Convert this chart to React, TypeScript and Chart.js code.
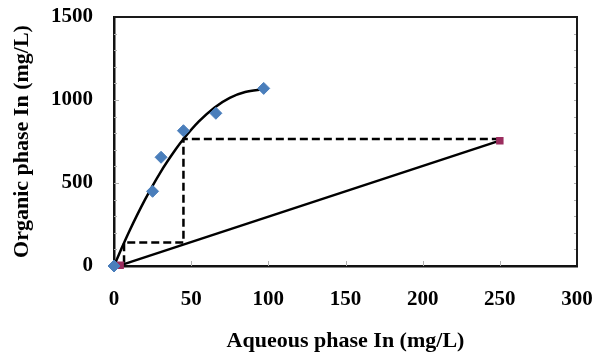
import React, { useEffect, useRef } from "react";
import { Chart, registerables } from "chart.js";

Chart.register(...registerables);

// Equilibrium data (aqueous In, organic In)
const eqX = [0, 25, 30.5, 45, 66, 97];
const eqY = [0, 450, 655, 815, 920, 1070];

// Trendline through equilibrium points
const trendX = [0, 5, 10, 20, 30, 40, 45, 55, 65, 75, 85, 97];
const trendY = [0, 108, 211, 398, 563, 703, 765, 871, 954, 1013, 1048, 1064];

// Operating line endpoints
const opX = [4, 250];
const opY = [4, 755];

// McCabe-Thiele step (dashed)
const stepX = [250, 45, 45, 6.5, 6.5];
const stepY = [765, 765, 142, 142, 20];

const xTicks = [0, 50, 100, 150, 200, 250, 300];
const yTicks = [0, 500, 1000, 1500];

const xTitle = "Aqueous phase In (mg/L)";
const yTitle = "Organic phase In (mg/L)";

const FONT = "'Liberation Serif', 'Times New Roman', serif";

const toPts = (xs: number[], ys: number[]) => xs.map((x, i) => ({ x, y: ys[i] }));

const framePlugin = {
  id: "frame",
  afterDatasetsDraw(chart: any) {
    const { ctx, chartArea, scales } = chart;
    const { left, right, top, bottom } = chartArea;
    ctx.save();
    // minor inner ticks
    ctx.strokeStyle = "#b0b0b0";
    ctx.lineWidth = 1;
    for (let v = 100; v < 1500; v += 100) {
      const y = Math.round(scales.y.getPixelForValue(v)) + 0.5;
      const len = v % 500 === 0 ? 5 : 3;
      ctx.beginPath();
      ctx.moveTo(left, y);
      ctx.lineTo(left + len, y);
      ctx.stroke();
      ctx.beginPath();
      ctx.moveTo(right, y);
      ctx.lineTo(right - 3, y);
      ctx.stroke();
    }
    for (const v of xTicks) {
      if (v === 0 || v === 300) continue;
      const x = Math.round(scales.x.getPixelForValue(v)) + 0.5;
      ctx.beginPath();
      ctx.moveTo(x, bottom);
      ctx.lineTo(x, bottom - 5);
      ctx.stroke();
    }
    // frame top/right
    ctx.strokeStyle = "#1a1a1a";
    ctx.lineWidth = 2;
    ctx.beginPath();
    ctx.moveTo(left, top);
    ctx.lineTo(right, top);
    ctx.lineTo(right, bottom);
    ctx.stroke();
    ctx.restore();
  },
};

const noPad = (s: any) => {
  s.paddingTop = 0;
  s.paddingBottom = 0;
  s.paddingLeft = 0;
  s.paddingRight = 0;
};

export default function App() {
  const ref = useRef<HTMLCanvasElement | null>(null);
  useEffect(() => {
    document.body.style.margin = "0";
    const canvas = ref.current;
    if (!canvas) return;
    const chart = new Chart(canvas, {
      type: "scatter",
      data: {
        datasets: [
          {
            label: "eq",
            data: toPts(eqX, eqY),
            showLine: false,
            pointStyle: "rectRot",
            pointRadius: 6,
            pointBackgroundColor: "#4A7EBB",
            pointBorderColor: "#4A7EBB",
            clip: false as any,
          },
          {
            label: "op",
            data: toPts(opX, opY),
            showLine: true,
            borderColor: "#000",
            borderWidth: 2.5,
            pointStyle: "rect",
            pointRadius: 3.5,
            pointBackgroundColor: "#9B2D5E",
            pointBorderColor: "#9B2D5E",
            clip: false as any,
          },
          {
            label: "trend",
            data: toPts(trendX, trendY),
            showLine: true,
            borderColor: "#000",
            borderWidth: 2.5,
            pointRadius: 0,
            cubicInterpolationMode: "monotone",
          } as any,
          {
            label: "step",
            data: toPts(stepX, stepY),
            showLine: true,
            borderColor: "#000",
            borderWidth: 2.5,
            borderDash: [8, 4],
            pointRadius: 0,
          },
        ],
      },
      options: {
        animation: false,
        responsive: false,
        layout: { padding: { top: 17, right: 18, left: 0, bottom: 0 } },
        plugins: { legend: { display: false }, tooltip: { enabled: false } },
        scales: {
          x: {
            type: "linear",
            min: 0,
            max: 300,
            afterFit: (s: any) => {
              s.height = 89;
              noPad(s);
            },
            afterBuildTicks: (s: any) => {
              s.ticks = xTicks.map((v) => ({ value: v }));
            },
            grid: { display: true, drawOnChartArea: false, drawTicks: false },
            border: { color: "#111", width: 2.5 },
            ticks: {
              padding: 21,
              color: "#000",
              callback: (v: any) => String(v),
              font: { family: FONT, size: 21, weight: "bold" },
            },
            title: {
              display: true,
              text: xTitle,
              color: "#000",
              font: { family: FONT, size: 22, weight: "bold" },
              padding: { top: 0, bottom: 0 },
            },
          },
          y: {
            type: "linear",
            min: 0,
            max: 1500,
            afterFit: (s: any) => {
              s.width = 114;
              noPad(s);
            },
            afterBuildTicks: (s: any) => {
              s.ticks = yTicks.map((v) => ({ value: v }));
            },
            grid: { display: true, drawOnChartArea: false, drawTicks: false },
            border: { color: "#111", width: 2.5 },
            ticks: {
              padding: 21,
              color: "#000",
              callback: (v: any) => String(v),
              font: { family: FONT, size: 21, weight: "bold" },
            },
            title: {
              display: true,
              text: yTitle,
              color: "#000",
              font: { family: FONT, size: 22, weight: "bold" },
              padding: { top: 9, bottom: 0 },
            },
          },
        },
      },
      plugins: [framePlugin],
    });
    return () => chart.destroy();
  }, []);
  return (
    <div style={{ width: 595, height: 355 }}>
      <canvas ref={ref} width={595} height={355} style={{ display: "block" }} />
    </div>
  );
}
